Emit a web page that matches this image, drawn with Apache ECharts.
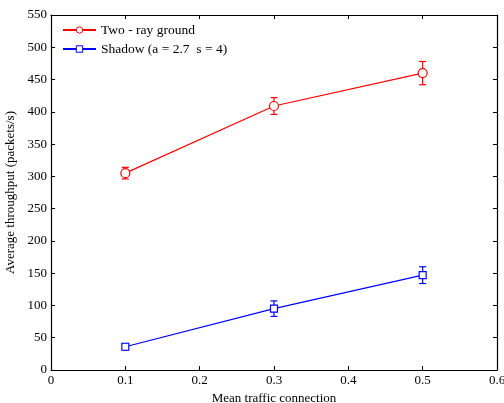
<!DOCTYPE html>
<html><head><meta charset="utf-8">
<script src="https://cdn.jsdelivr.net/npm/echarts@6/dist/echarts.min.js"></script>
<style>html,body{margin:0;padding:0;background:#fff}#c{width:504px;height:403px}</style>
</head><body><div id="c"></div>
<script>
const xValues = [0.1, 0.3, 0.5];
const twoRay = [305, 409, 460];
const twoRayErr = [9, 13, 18];
const shadow = [36, 95, 147];
const shadowErr = [5, 12, 13];
const xTicks = ['0','0.1','0.2','0.3','0.4','0.5','0.6'];
const yTicks = ['0','50','100','150','200','250','300','350','400','450','500','550'];

const font = 'Liberation Serif';
function errSeries(vals, errs, color, name) {
  return {
    type: 'custom', name: name + ' err', silent: true, z: 1,
    data: xValues.map((x, i) => [x, vals[i] - errs[i], vals[i] + errs[i]]),
    renderItem: function (params, api) {
      const lo = api.coord([api.value(0), api.value(1)]);
      const hi = api.coord([api.value(0), api.value(2)]);
      const w = 3.5;
      const st = { stroke: color, lineWidth: 1.2 };
      return { type: 'group', children: [
        { type: 'line', shape: { x1: lo[0], y1: lo[1], x2: hi[0], y2: hi[1] }, style: st },
        { type: 'line', shape: { x1: lo[0]-w, y1: lo[1], x2: lo[0]+w, y2: lo[1] }, style: st },
        { type: 'line', shape: { x1: hi[0]-w, y1: hi[1], x2: hi[0]+w, y2: hi[1] }, style: st }
      ]};
    }
  };
}
const axisLine = { show: true, onZero: false, lineStyle: { color: '#000', width: 1.2 } };
const tick = { show: true, inside: true, length: 4, lineStyle: { color: '#000' } };
const chart = echarts.init(document.getElementById('c'));
chart.setOption({
  animation: false,
  textStyle: { fontFamily: font },
  grid: { left: 51, right: 7, top: 15, bottom: 33, containLabel: false, outerBoundsMode: 'none' },
  legend: {
    left: 62, top: 23, padding: 0, orient: 'vertical', itemGap: 5, itemWidth: 33, itemHeight: 8,
    textStyle: { fontFamily: font, fontSize: 13.5, color: '#000' },
    data: [
      { name: 'Two - ray ground', itemStyle: { borderWidth: 1 } },
      { name: 'Shadow (a = 2.7  s = 4)', itemStyle: { borderWidth: 1 } }
    ]
  },
  xAxis: [
    { type: 'value', min: 0, max: 0.6, interval: 0.1, axisLine, axisTick: tick, splitLine: { show: false },
      axisLabel: { color: '#000', fontSize: 13, fontFamily: font, margin: 4, formatter: (v) => xTicks[Math.round(v*10)] },
      name: 'Mean traffic connection', nameLocation: 'middle', nameGap: 19,
      nameTextStyle: { color: '#000', fontSize: 13, fontFamily: font } },
    { type: 'value', position: 'top', min: 0, max: 0.6, interval: 0.1, axisLine, axisTick: tick,
      axisLabel: { show: false }, splitLine: { show: false } }
  ],
  yAxis: [
    { type: 'value', min: 0, max: 550, interval: 50, axisLine, axisTick: tick, splitLine: { show: false },
      axisLabel: { color: '#000', fontSize: 13, fontFamily: font, margin: 4, formatter: (v) => yTicks[Math.round(v/50)] },
      name: 'Average throughput (packets/s)', nameLocation: 'middle', nameGap: 26,
      nameTextStyle: { color: '#000', fontSize: 13, fontFamily: font } },
    { type: 'value', position: 'right', min: 0, max: 550, interval: 50, axisLine, axisTick: tick,
      axisLabel: { show: false }, splitLine: { show: false } }
  ],
  series: [
    errSeries(twoRay, twoRayErr, '#ff0000', 'tr'),
    errSeries(shadow, shadowErr, '#0000ff', 'sh'),
    { type: 'line', name: 'Two - ray ground', data: xValues.map((x, i) => [x, twoRay[i]]),
      symbol: 'circle', symbolSize: 9, showSymbol: true, z: 3,
      lineStyle: { color: '#ff0000', width: 1.2 },
      itemStyle: { color: '#fff', borderColor: '#ff0000', borderWidth: 1.2 } },
    { type: 'line', name: 'Shadow (a = 2.7  s = 4)', data: xValues.map((x, i) => [x, shadow[i]]),
      symbol: 'rect', symbolSize: 7, showSymbol: true, z: 3,
      lineStyle: { color: '#0000ff', width: 1.2 },
      itemStyle: { color: '#fff', borderColor: '#0000ff', borderWidth: 1.2 } }
  ]
});
</script></body></html>
